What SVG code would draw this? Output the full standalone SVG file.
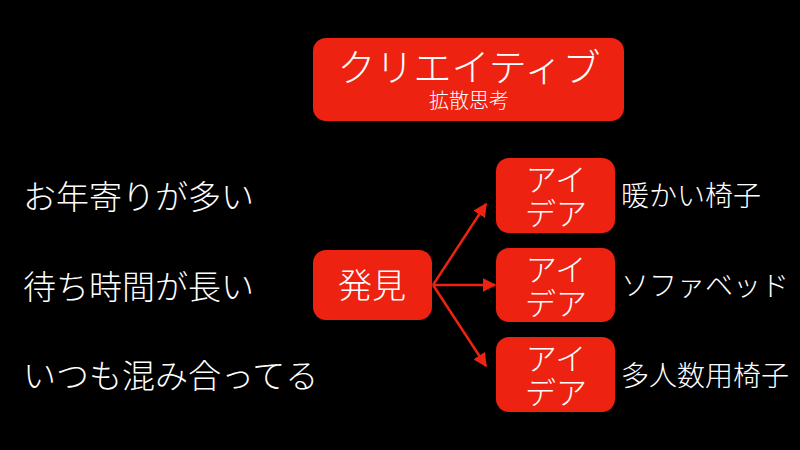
<svg xmlns="http://www.w3.org/2000/svg" width="800" height="450" viewBox="0 0 800 450">
<defs>
<style>
.box{fill:#ee2210;}
.t{fill:#ffffff;font-family:"Noto Sans CJK JP","Noto Sans CJK SC",sans-serif;font-weight:300;}
.c{text-anchor:middle;}
.conn{stroke:#ee2210;stroke-width:2.5;fill:none;}
</style>
<marker id="ah" viewBox="0 0 10 10" refX="9" refY="5" markerWidth="5.5" markerHeight="5.5" orient="auto" markerUnits="strokeWidth">
<path d="M0,0 L10,5 L0,10 z" fill="#ee2210"/>
</marker>
</defs>
<rect width="800" height="450" fill="#000000"/>
<g id="creative">
<rect class="box" x="313" y="38" width="311" height="83" rx="13"/>
<text class="t c" x="469" y="81" font-size="38">クリエイティブ</text>
<text class="t c" x="469" y="108" font-size="20" font-weight="400">拡散思考</text>
</g>
<g id="discovery">
<rect class="box" x="313" y="250" width="119" height="70" rx="13"/>
<text class="t c" x="372" y="298" font-size="34">発見</text>
</g>
<g id="idea1">
<rect class="box" x="496" y="158" width="119" height="75" rx="13"/>
<text class="t c" x="556" y="191" font-size="31">アイ</text>
<text class="t c" x="556" y="225" font-size="31">デア</text>
</g>
<g id="idea2">
<rect class="box" x="496" y="248" width="119" height="74" rx="13"/>
<text class="t c" x="556" y="281" font-size="31">アイ</text>
<text class="t c" x="556" y="315" font-size="31">デア</text>
</g>
<g id="idea3">
<rect class="box" x="496" y="337" width="119" height="75" rx="13"/>
<text class="t c" x="556" y="370" font-size="31">アイ</text>
<text class="t c" x="556" y="404" font-size="31">デア</text>
</g>
<g id="connectors">
<line class="conn" x1="433" y1="285" x2="486" y2="204" marker-end="url(#ah)"/>
<line class="conn" x1="433" y1="285" x2="495" y2="285" marker-end="url(#ah)"/>
<line class="conn" x1="433" y1="285" x2="486" y2="366" marker-end="url(#ah)"/>
</g>
<g id="problems">
<text class="t" x="23" y="209" font-size="33">お年寄りが多い</text>
<text class="t" x="23" y="299" font-size="33">待ち時間が長い</text>
<text class="t" x="23" y="388" font-size="33">いつも混み合ってる</text>
</g>
<g id="solutions">
<text class="t" x="621" y="206" font-size="28">暖かい椅子</text>
<text class="t" x="621" y="296" font-size="28">ソファベッド</text>
<text class="t" x="621" y="386" font-size="28">多人数用椅子</text>
</g>
</svg>
